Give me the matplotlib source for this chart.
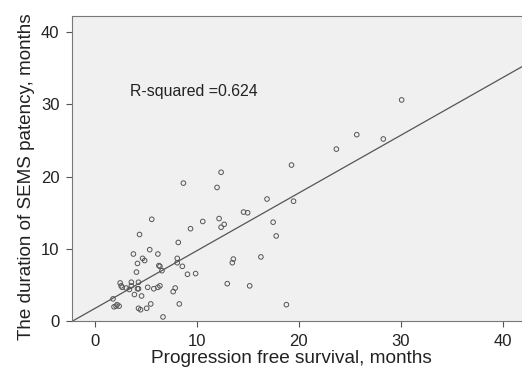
import matplotlib
matplotlib.use("Agg")
import matplotlib.pyplot as plt

plt.rcParams['font.family'] = ['Liberation Sans', 'DejaVu Sans']

pfs = [30.1, 25.7, 28.3, 23.7, 19.3, 12.4, 8.7, 12.0, 16.9, 19.5, 14.6, 15.0,
       10.6, 12.2, 17.5, 5.6, 9.4, 12.4, 12.7, 17.8, 4.4, 8.2, 5.4, 3.8, 6.2,
       4.7, 4.9, 8.1, 8.1, 4.2, 13.6, 13.5, 16.3, 6.3, 6.4, 8.6, 6.6, 4.1, 9.1,
       9.9, 2.5, 3.6, 4.3, 2.6, 2.7, 3.1, 3.4, 3.6, 4.2, 4.3, 5.2, 5.8, 6.2, 6.4,
       7.9, 7.7, 3.9, 4.6, 1.8, 2.2, 2.1, 1.9, 2.4, 4.3, 4.5, 5.1, 5.5, 8.3, 6.7,
       13.0, 15.2, 18.8]
patency = [30.6, 25.8, 25.2, 23.8, 21.6, 20.6, 19.1, 18.5, 16.9, 16.6, 15.1, 15.0,
           13.8, 14.2, 13.7, 14.1, 12.8, 13.0, 13.4, 11.8, 12.0, 10.9, 9.9, 9.3, 9.3,
           8.7, 8.4, 8.7, 8.1, 8.0, 8.6, 8.1, 8.9, 7.7, 7.6, 7.6, 7.0, 6.8, 6.5,
           6.6, 5.3, 5.4, 5.4, 4.9, 4.7, 4.6, 4.4, 4.9, 4.5, 4.5, 4.7, 4.5, 4.7, 4.9,
           4.6, 4.1, 3.7, 3.5, 3.1, 2.3, 2.1, 2.0, 2.1, 1.8, 1.6, 1.8, 2.4, 2.4, 0.6,
           5.2, 4.9, 2.3]
fit_intercept = 1.76
fit_slope = 0.798
r_squared = 0.624
xticks = [0, 10, 20, 30, 40]
yticks = [0, 10, 20, 30, 40]

fig = plt.figure(figsize=(5.22, 3.75), dpi=100)
ax = fig.add_axes([72/522, 53.7/375, 450/522, 305.3/375])
ax.set_facecolor('#f0f0f0')

xmin, xmax = -2.22, 41.9
ax.set_xlim(xmin, xmax)
ax.set_ylim(0, 42.2)

ax.plot([xmin, xmax], [fit_intercept + fit_slope*xmin, fit_intercept + fit_slope*xmax],
        color='#555555', lw=0.9, zorder=2)
ax.scatter(pfs, patency, s=11, facecolors='none', edgecolors='#555555',
           linewidths=0.7, zorder=3)

ax.text(3.46, 31.7, f'R-squared ={r_squared}', fontsize=11.4, color='#222222',
        va='center', ha='left')

ax.set_xticks(xticks)
ax.set_yticks(yticks)
ax.tick_params(direction='out', length=4, width=0.8, color='#555555',
               labelsize=12, labelcolor='#222222', pad=5)
for s in ['left', 'bottom', 'top']:
    ax.spines[s].set_color('#777777')
    ax.spines[s].set_linewidth(0.8)
ax.spines['right'].set_visible(False)

ax.set_xlabel('Progression free survival, months', fontsize=13.7, color='#222222',
              labelpad=1, x=0.488)
ax.set_ylabel('The duration of SEMS patency, months', fontsize=13.6, color='#222222',
              labelpad=4, y=0.474)

fig.savefig('out.png', dpi=100)
